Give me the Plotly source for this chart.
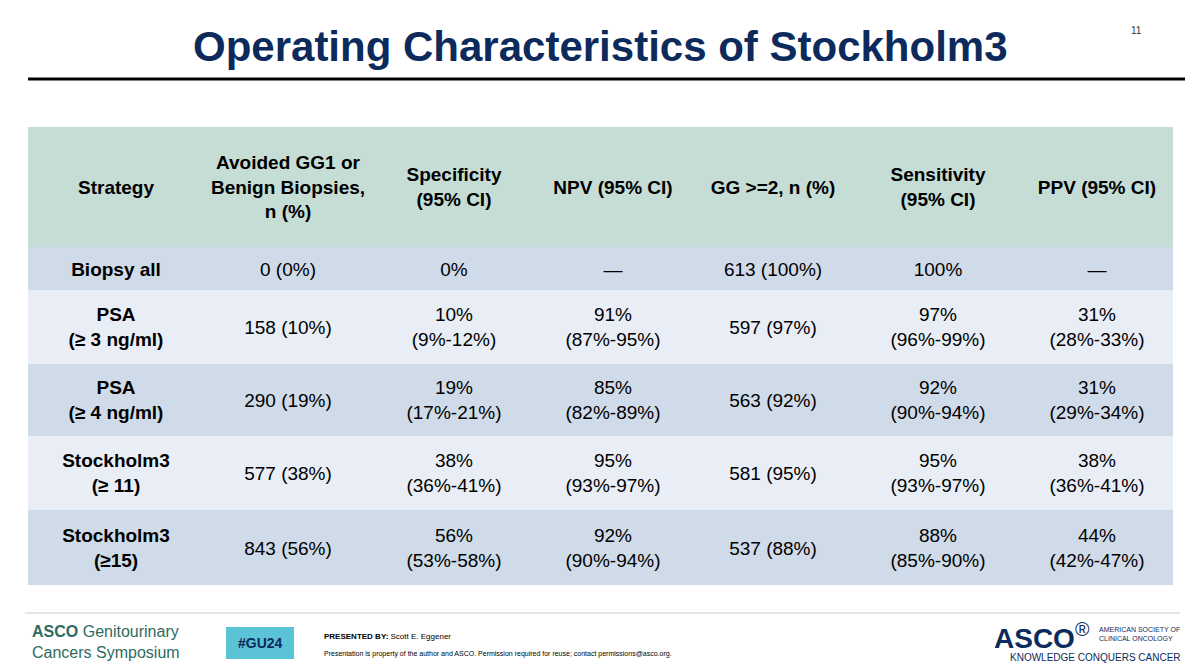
import plotly.graph_objects as go

headers = ["<b>Strategy</b>", "<b>Avoided GG1 or<br>Benign Biopsies,<br>n (%)</b>",
           "<b>Specificity<br>(95% CI)</b>", "<b>NPV (95% CI)</b>", "<b>GG >=2, n (%)</b>",
           "<b>Sensitivity<br>(95% CI)</b>", "<b>PPV (95% CI)</b>"]
strategy = ["<b>Biopsy all</b>", "<b>PSA<br>(≥ 3 ng/ml)</b>", "<b>PSA<br>(≥ 4 ng/ml)</b>",
            "<b>Stockholm3<br>(≥ 11)</b>", "<b>Stockholm3<br>(≥15)</b>"]
avoided = ["0 (0%)", "158 (10%)", "290 (19%)", "577 (38%)", "843 (56%)"]
specificity = ["0%", "10%<br>(9%-12%)", "19%<br>(17%-21%)", "38%<br>(36%-41%)", "56%<br>(53%-58%)"]
npv = ["—", "91%<br>(87%-95%)", "85%<br>(82%-89%)", "95%<br>(93%-97%)", "92%<br>(90%-94%)"]
gg2 = ["613 (100%)", "597 (97%)", "563 (92%)", "581 (95%)", "537 (88%)"]
sensitivity = ["100%", "97%<br>(96%-99%)", "92%<br>(90%-94%)", "95%<br>(93%-97%)", "88%<br>(85%-90%)"]
ppv = ["—", "31%<br>(28%-33%)", "31%<br>(29%-34%)", "38%<br>(36%-41%)", "44%<br>(42%-47%)"]

# layout in pixel coordinates of the slide
col_edges = [28, 203, 373, 535, 690, 855, 1020, 1173]
row_edges = [127, 247, 290, 364, 436, 510, 585]
row_shade = [0, 0.5, 1, 0.5, 1, 0.5]   # header, then alternating bands

columns = [strategy, avoided, specificity, npv, gg2, sensitivity, ppv]
text = [headers] + [[col[i] for col in columns] for i in range(len(strategy))]
z = [[s] * len(headers) for s in row_shade]

OFF = 8  # page body margin
fig = go.Figure(go.Heatmap(
    x=col_edges, y=row_edges, z=z, text=text, texttemplate="%{text}",
    textfont=dict(family="Liberation Sans", size=19, color="black"),
    colorscale=[[0, "#c5ddd5"], [0.5, "#d0dbe9"], [1, "#e9eef6"]],
    zmin=0, zmax=1, showscale=False, hoverinfo="skip",
))

fig.add_annotation(x=600, y=46, text="<b>Operating Characteristics of Stockholm3</b>",
                   font=dict(family="Liberation Sans", size=42, color="#0c2a5b"))
fig.add_annotation(x=1136, y=30, text="11", font=dict(family="Liberation Sans", size=10, color="#333"))
fig.add_shape(type="line", x0=28, x1=1185, y0=79, y1=79, line=dict(color="black", width=3))
fig.add_shape(type="line", x0=25, x1=1180, y0=613, y1=613, line=dict(color="#dddddd", width=1.5))

# footer
fig.add_annotation(x=30, y=642, xanchor="left", align="left",
                   text="<b>ASCO</b> Genitourinary<br>Cancers Symposium",
                   font=dict(family="Liberation Sans", size=16, color="#2e6b5e"))
fig.add_shape(type="rect", x0=226, x1=294, y0=627, y1=659, fillcolor="#5bc3d6", line_width=0)
fig.add_annotation(x=260, y=643, text="<b>#GU24</b>",
                   font=dict(family="Liberation Sans", size=14, color="#0c2a5b"))
fig.add_annotation(x=322, y=636, xanchor="left", text="<b>PRESENTED BY:</b> Scott E. Eggener",
                   font=dict(family="Liberation Sans", size=8, color="black"))
fig.add_annotation(x=322, y=654, xanchor="left",
                   text="Presentation is property of the author and ASCO. Permission required for reuse; contact permissions@asco.org.",
                   font=dict(family="Liberation Sans", size=7, color="black"))
fig.add_annotation(x=1092, y=636, xanchor="right", text="<b>ASCO</b><sup>®</sup>",
                   font=dict(family="Liberation Sans", size=28, color="#0c2a5b"))
fig.add_annotation(x=1097, y=634, xanchor="left", align="left", text="AMERICAN SOCIETY OF<br>CLINICAL ONCOLOGY",
                   font=dict(family="Liberation Sans", size=7, color="#0c2a5b"))
fig.add_annotation(x=1183, y=657, xanchor="right", text="KNOWLEDGE CONQUERS CANCER",
                   font=dict(family="Liberation Sans", size=10, color="#0c2a5b"))
fig.update_annotations(showarrow=False, xref="x", yref="y", yanchor="middle")

fig.update_xaxes(range=[OFF, 1200 + OFF], visible=False, fixedrange=True)
fig.update_yaxes(range=[671 + OFF, OFF], visible=False, fixedrange=True)
fig.update_layout(width=1200, height=671, margin=dict(l=0, r=0, t=0, b=0),
                  paper_bgcolor="white", plot_bgcolor="white")
fig.write_html("out.html")
